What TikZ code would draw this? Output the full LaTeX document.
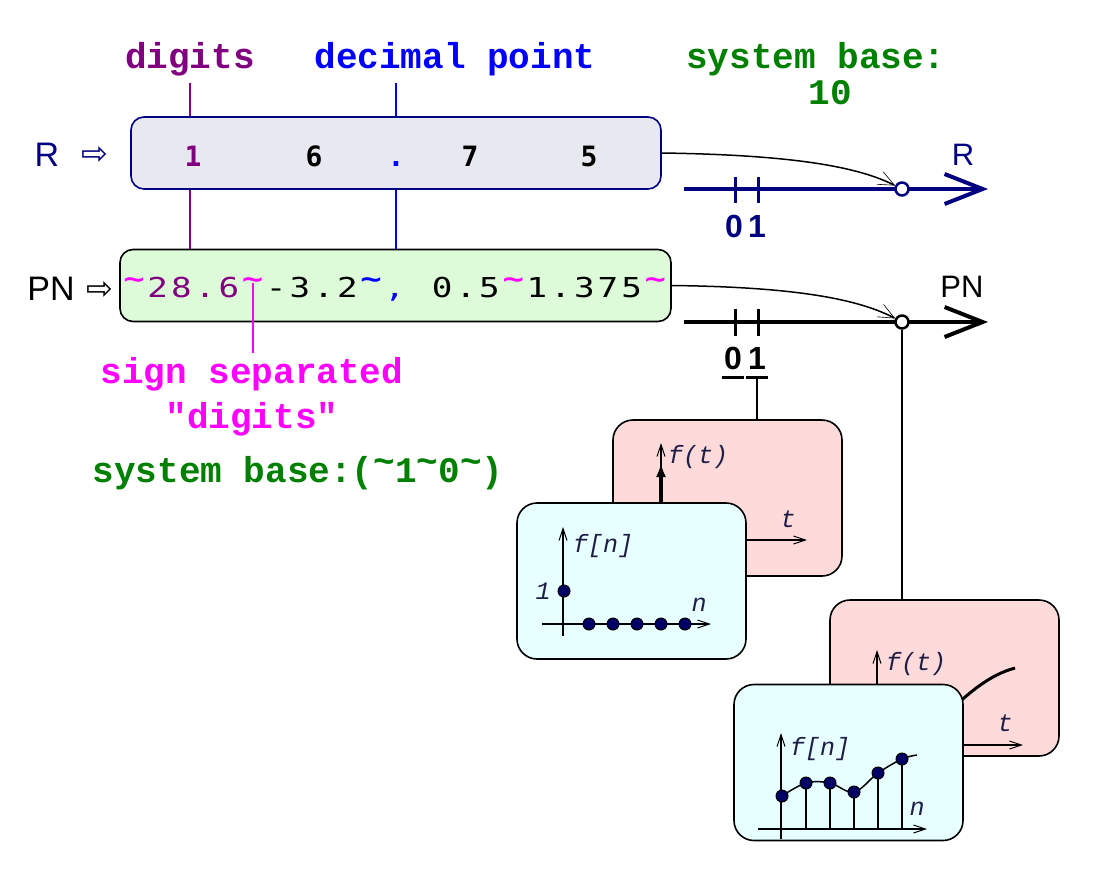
\documentclass[tikz,border=0pt]{standalone}
\usepackage{fontspec}
\usepackage{graphicx}
\setmainfont{Liberation Sans}
\newfontfamily\courfont{Liberation Mono}
\newfontfamily\digfont{DejaVu Sans Mono}
\newfontfamily\symfont{DejaVu Sans}
\newfontfamily\plotfont{Liberation Mono}
\usepackage{tikz}
\usetikzlibrary{arrows.meta, positioning}
\definecolor{navy}{RGB}{0, 0, 128}
\definecolor{purp}{RGB}{128, 0, 128}
\definecolor{magen}{RGB}{255, 0, 255}
\definecolor{grn}{RGB}{0, 128, 0}
\definecolor{blu}{RGB}{0, 0, 255}
\definecolor{rfill}{RGB}{232, 232, 240}
\definecolor{pnfill}{RGB}{221, 251, 216}
\definecolor{pinkfill}{RGB}{255, 218, 218}
\definecolor{cyanfill}{RGB}{232, 255, 255}
\definecolor{plotink}{RGB}{30, 30, 70}
\definecolor{dotblue}{RGB}{0, 0, 100}
% one character cell of the PN string
\newcommand{\pc}[2]{\makebox[23.7pt]{\textcolor{#1}{\scalebox{1.25}[1]{#2}}}}
\newcommand{\ptld}[1]{\makebox[23.7pt]{\textcolor{#1}{\raisebox{9pt}{\scalebox{1.3}[1]{\bfseries\textasciitilde}}}}}
\newcommand{\ctld}{\raisebox{9pt}{\textasciitilde}}

\begin{document}
\begin{tikzpicture}[x=1pt, y=-1pt,
  lbl/.style={font=\courfont\bfseries\fontsize{36}{40}\selectfont, anchor=base},
  digit/.style={font=\digfont\bfseries\fontsize{28}{30}\selectfont, anchor=base},
  sanslbl/.style={font=\fontsize{34}{38}\selectfont, anchor=base},
  numlbl/.style={font=\bfseries\fontsize{32}{34}\selectfont, anchor=base, inner sep=1.5pt},
  plotlbl/.style={font=\plotfont\itshape\fontsize{25}{28}\selectfont, text=plotink, anchor=base},
  rowbox/.style={rounded corners=13, line width=1.6, inner sep=0, minimum width=#1, minimum height=72},
  panel/.style={draw, rounded corners=20, line width=1.6, inner sep=0, minimum width=229, minimum height=156, fill=#1},
  ring/.style={circle, minimum size=13, inner sep=0, fill=white, line width=2.5},
  dotn/.style={circle, minimum size=12, inner sep=0, fill=dotblue, draw=black, line width=1},
  numline/.style={line width=4, -{Straight Barb[length=38, width=30]}},
  tick/.style={line width=3},
  plotax/.style={line width=1.5, -{Straight Barb[length=12, width=8, line width=1]}},
  thin/.style={line width=1.5},
  mapto/.style={line width=1.5, -{Straight Barb[length=16, width=14, line width=0.6]}}]
  \useasboundingbox (0, 0) rectangle (1107, 870);

  % labels on top
  \node[lbl, text=purp] (digits) at (190, 68) {digits};
  \node[lbl, text=blu] (decpt) at (455, 68) {decimal point};
  \node[lbl, text=grn] (base) at (816, 68) {system base:};
  \node[lbl, text=grn] (baseten) at (830, 104) {10};

  % R row
  \node[sanslbl, text=navy] (rlab) at (47, 166) {R};
  \node[text=navy, font=\symfont\fontsize{32}{34}\selectfont] (rarr) at (95, 156) {⇨};
  \node[rowbox=530, draw=navy, fill=rfill] (rbox) at (396, 153) {};
  \node[digit, text=purp] (d1) at (193, 166) {1};
  \node[digit] (d6) at (314, 166) {6};
  \node[digit, text=blu] (dp) at (396, 166) {.};
  \node[digit] (d7) at (470, 166) {7};
  \node[digit] (d5) at (589, 166) {5};

  % PN row
  \node[sanslbl] (pnlab) at (51, 300) {PN};
  \node[font=\symfont\fontsize{32}{34}\selectfont] (pnarr) at (100, 291) {⇨};
  \node[rowbox=551, draw=black, fill=pnfill] (pnbox) at (395.5, 285.5) {};
  \node[anchor=base west, inner sep=0, font=\digfont\fontsize{27.4}{30}\selectfont] (pntext) at (122, 297)
    {\ptld{magen}\pc{purp}{2}\pc{purp}{8}\pc{purp}{.}\pc{purp}{6}\ptld{magen}%
     \pc{black}{-}\pc{black}{3}\pc{black}{.}\pc{black}{2}\ptld{blu}\pc{blu}{,}\pc{black}{}%
     \pc{black}{0}\pc{black}{.}\pc{black}{5}\ptld{magen}%
     \pc{black}{1}\pc{black}{.}\pc{black}{3}\pc{black}{7}\pc{black}{5}\ptld{magen}};

  \draw[purp, thin, shorten <=4] (digits.south) -- (digits.south |- rbox.north);
  \draw[purp, thin] (digits.south |- rbox.south) -- (digits.south |- pnbox.north);
  \draw[blu, thin, shorten <=4] (dp |- decpt.south) -- (dp |- rbox.north);
  \draw[blu, thin] (dp |- rbox.south) -- (dp |- pnbox.north);

  \node[lbl, text=magen] (sep) at (252, 383) {sign separated};
  \node[lbl, text=magen] (sepq) at (252, 428) {"digits"};
  \node[lbl, text=grn] (pnbase) at (298, 482) {system base:(\ctld1\ctld0\ctld)};
  \coordinate (tld) at (253, 283);
  \draw[magen, thin] (tld) -- (tld |- sep.north);

  % number line R
  \coordinate (r0) at (684, 189);
  \coordinate (r9) at (988, 189);
  \draw[navy, numline] (r0) -- (r9);
  \draw[navy, tick] (735, 177) -- (735, 203);
  \draw[navy, tick] (758, 177) -- (758, 203);
  \node[numlbl, text=navy] (rzero) at (734, 237) {0};
  \node[numlbl, text=navy] (rone) at (757, 237) {1};
  \node[sanslbl, text=navy, font=\fontsize{31}{34}\selectfont] (rright) at (963, 165) {R};
  \node[ring, draw=navy] (rdot) at (902, 189) {};
  \draw[mapto] (rbox.east) .. controls (800, 155) and (860, 168) .. (rdot);

  % number line PN
  \coordinate (p0) at (684, 322);
  \coordinate (p9) at (988, 322);
  \draw[numline] (p0) -- (p9);
  \draw[tick] (735, 309) -- (735, 336);
  \draw[tick] (758, 309) -- (758, 336);
  \node[numlbl] (pzero) at (733, 369) {0};
  \node[numlbl] (pone) at (757, 369) {1};
  \draw[tick] ([yshift=-8pt]pzero.base west) -- ([yshift=-8pt]pzero.base east);
  \draw[tick] ([yshift=-8pt]pone.base west) -- ([yshift=-8pt]pone.base east);
  \node[sanslbl, font=\fontsize{31}{34}\selectfont] (pnright) at (962, 297) {PN};
  \node[ring, draw=black] (pndot) at (902, 322) {};
  \draw[mapto] (pnbox.east) .. controls (800, 287) and (860, 300) .. (pndot);

  % impulse panels
  \node[panel=pinkfill] (ct1) at (727.5, 498) {};
  \draw[plotax] (661, 560) -- (661, 443);
  \draw[line width=4, -{Latex[length=14, width=10]}] (661, 540) -- (661, 463);
  \draw[plotax] (640, 540) -- (807, 540);
  \node[plotlbl] (ct1f) at (698, 463) {f(t)};
  \node[plotlbl] (ct1t) at (788, 527) {t};

  \node[panel=cyanfill] (dt1) at (631.5, 581) {};
  \draw[plotax] (563, 636) -- (563, 527);
  \draw[plotax] (542, 624) -- (711, 624);
  \node[dotn] (dt1one) at (564, 591) {};
  \foreach \x in {589, 613, 637, 661, 685}
    \node[dotn] at (\x, 624) {};
  \node[plotlbl] (dt1f) at (603, 552) {f[n]};
  \node[plotlbl] (dt1o) at (543, 599) {1};
  \node[plotlbl] (dt1n) at (699, 611) {n};

  % sampled panels
  \node[panel=pinkfill] (ct2) at (944.5, 678) {};
  \draw[plotax] (877, 720) -- (877, 650);
  \draw[line width=3] (930, 730) .. controls (970, 690) and (990, 675) .. (1015, 668);
  \draw[plotax] (900, 745) -- (1023, 745);
  \node[plotlbl] (ct2f) at (916, 670) {f(t)};
  \node[plotlbl] (ct2t) at (1005, 731) {t};

  \node[panel=cyanfill] (dt2) at (848.5, 762.5) {};
  \draw[plotax] (781, 839) -- (781, 733);
  \draw[plotax] (758, 829) -- (927, 829);
  \foreach \x/\y in {806/783, 830/783, 854/792, 878/773, 902/759}
    \draw[thin] (\x, 829) -- (\x, \y);
  \draw[thin] plot[smooth, tension=0.6] coordinates {(782, 796) (806, 783) (830, 783) (854, 792) (878, 773) (902, 759) (917, 755)};
  \foreach \x/\y in {782/796, 806/783, 830/783, 854/792, 878/773, 902/759}
    \node[dotn] at (\x, \y) {};
  \node[plotlbl] (dt2f) at (820, 755) {f[n]};
  \node[plotlbl] (dt2n) at (917, 815) {n};

  % links down to the panels
  \draw[thin] ([yshift=-8pt]pone.base) -- (pone.base |- ct1.north);
  \draw[thin] (pndot) -- (pndot |- ct2.north);
\end{tikzpicture}
\end{document}
